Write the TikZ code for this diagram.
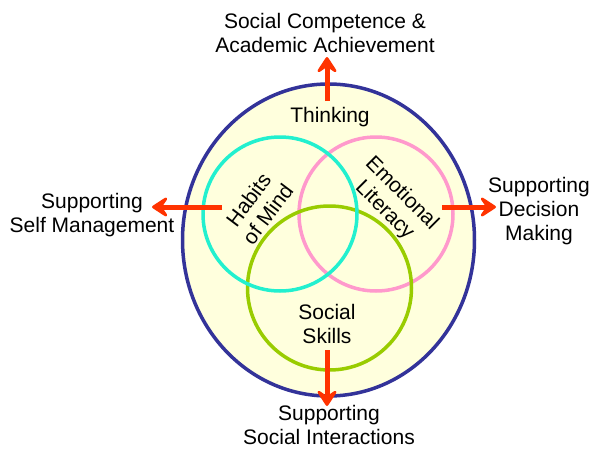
\documentclass[tikz,border=0pt]{standalone}
\usepackage{fontspec}
\setmainfont{Liberation Sans}
\usetikzlibrary{arrows.meta}

\definecolor{rimblue}{RGB}{51,51,153}
\definecolor{paleyellow}{RGB}{255,255,221}
\definecolor{ringcyan}{RGB}{34,240,207}
\definecolor{ringpink}{RGB}{255,153,204}
\definecolor{ringgreen}{RGB}{153,204,0}
\definecolor{arrowred}{RGB}{255,51,0}

\tikzset{
  ring/.style={line width=3.5pt},
  % base anchor of a multi-line node sits on its last line
  label/.style={font=\fontsize{21}{24}\selectfont, align=center, inner sep=0pt, anchor=base},
  inlabel/.style={font=\fontsize{21}{24}\selectfont, align=center, inner sep=0pt},
  outarrow/.style={draw=arrowred, line width=5pt,
    -{Stealth[length=20pt,width=26pt,inset=9pt,round]}},
}

\begin{document}
\begin{tikzpicture}[x=1pt, y=-1pt]
  \useasboundingbox (0,0) rectangle (590,450);

  % outer boundary
  \draw[rimblue, fill=paleyellow, line width=3.5pt] (328.5,240) ellipse [x radius=146, y radius=156];

  % the three overlapping rings
  \draw[ring, ringpink]  (376,214) circle [radius=77];
  \draw[ring, ringgreen] (329.5,288) circle [radius=82];
  \draw[ring, ringcyan]  (280,214) circle [radius=77];

  % labels inside
  \node[label] (thinking) at (330,122) {Thinking};
  \node[inlabel, rotate=53] (habits) at (258,207) {Habits\\of Mind};
  \node[inlabel, rotate=-45] (emotional) at (393,202) {Emotional\\Literacy};
  \node[label] (skills) at (327,343) {Social\\Skills};

  % outcomes
  \node[label] (top) at (325,52) {Social Competence \&\\Academic Achievement};
  \node[label] (left) at (92,232) {Supporting\\Self Management};
  \node[label] (right) at (539,240) {Supporting\\Decision\\Making};
  \node[label] (bottom) at (329,444) {Supporting\\Social Interactions};

  % arrow anchors
  \coordinate (topstart) at (327,101);
  \coordinate (toptip) at (327,57);
  \coordinate (leftstart) at (222,207);
  \coordinate (lefttip) at (152,207);
  \coordinate (rightstart) at (442,207);
  \coordinate (righttip) at (496,207);
  \coordinate (botstart) at (327,350);
  \coordinate (bottip) at (327,406);

  \draw[outarrow] (topstart) -- (toptip);
  \draw[outarrow] (leftstart) -- (lefttip);
  \draw[outarrow] (rightstart) -- (righttip);
  \draw[outarrow] (botstart) -- (bottip);
\end{tikzpicture}
\end{document}
